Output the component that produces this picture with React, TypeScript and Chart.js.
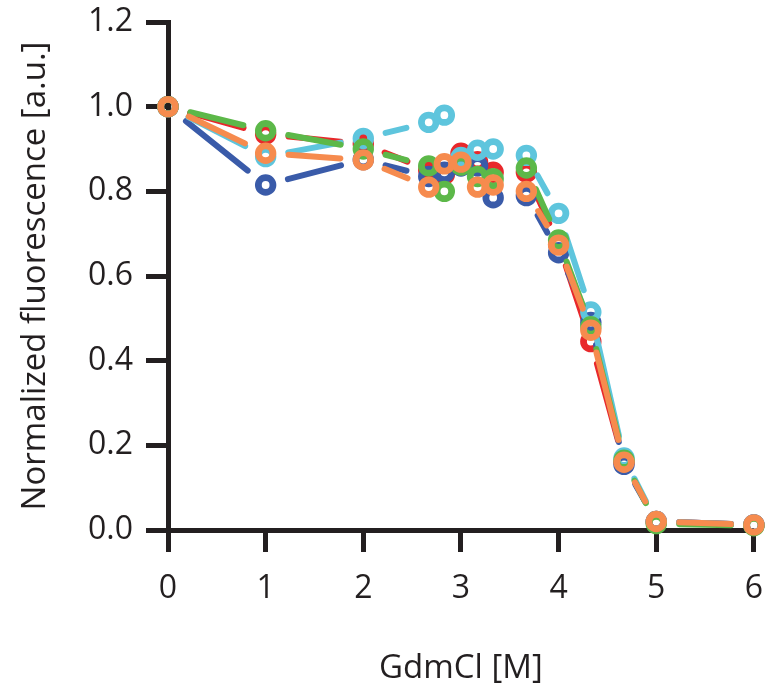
import React, { useEffect, useRef } from "react";
import { Chart, registerables } from "chart.js";

Chart.register(...registerables);

const xValues = [0, 1, 2, 2.67, 2.83, 3, 3.17, 3.33, 3.67, 4, 4.33, 4.67, 5, 6];
const seriesNames = ["Orange", "Green", "Cyan", "Blue", "Red"];
const orangeValues = [1.0, 0.89, 0.874, 0.81, 0.865, 0.869, 0.81, 0.815, 0.8, 0.673, 0.472, 0.16, 0.02, 0.012];
const greenValues = [1.0, 0.943, 0.9, 0.86, 0.8, 0.862, 0.835, 0.83, 0.855, 0.685, 0.48, 0.165, 0.015, 0.01];
const cyanValues = [1.0, 0.882, 0.925, 0.963, 0.98, 0.88, 0.897, 0.9, 0.885, 0.748, 0.515, 0.17, 0.02, 0.012];
const blueValues = [1.0, 0.815, 0.875, 0.835, 0.845, 0.86, 0.86, 0.785, 0.79, 0.655, 0.49, 0.155, 0.02, 0.012];
const redValues = [1.0, 0.935, 0.912, 0.85, 0.84, 0.89, 0.87, 0.845, 0.845, 0.675, 0.445, 0.16, 0.02, 0.012];
const xTickValues = [0, 1, 2, 3, 4, 5, 6];
const yTickValues = [0, 0.2, 0.4, 0.6, 0.8, 1.0, 1.2];

const colors = ["#f68b4e", "#5cb849", "#5ec5dd", "#3a5ba9", "#e8282b"];
const allValues = [orangeValues, greenValues, cyanValues, blueValues, redValues];

const INK = "#231f20";
const TICK_FONT = { family: "'Open Sans', 'Noto Sans', sans-serif", size: 32 };
const TITLE_FONT = { family: "'Open Sans', 'Noto Sans', sans-serif", size: 33 };
const GAP = 23;

function segLen(ctx: any) {
  const dx = ctx.p1.x - ctx.p0.x;
  const dy = ctx.p1.y - ctx.p0.y;
  return Math.sqrt(dx * dx + dy * dy);
}
function segmentDash(ctx: any) {
  const d = segLen(ctx) - 2 * GAP;
  if (d <= 0.5) return [1, 100000];
  return [d, 2 * GAP + 100000];
}
function segmentOffset(_ctx: any) {
  return -GAP;
}
function segmentColor(ctx: any, base: string) {
  return segLen(ctx) - 2 * GAP <= 0.5 ? "rgba(0,0,0,0)" : base;
}

export default function App() {
  const ref = useRef<HTMLCanvasElement | null>(null);
  useEffect(() => {
    if (!ref.current) return;
    const datasets = allValues.map((vals, i) => ({
      label: seriesNames[i],
      data: vals.map((v, j) => ({ x: xValues[j], y: v })),
      borderColor: colors[i],
      backgroundColor: "rgba(0,0,0,0)",
      borderWidth: 6,
      borderCapStyle: "round" as const,
      pointRadius: 7.3,
      pointBorderWidth: 6.8,
      pointBorderColor: colors[i],
      pointBackgroundColor: "rgba(0,0,0,0)",
      clip: false as any,
      segment: {
        borderDash: segmentDash,
        borderDashOffset: segmentOffset,
        borderColor: (c: any) => segmentColor(c, colors[i]),
      },
    }));
    const chart = new Chart(ref.current, {
      type: "line",
      data: { datasets },
      options: {
        animation: false,
        responsive: false,
        layout: { padding: { left: 0, right: 11, top: 22, bottom: 0 } },
        plugins: { legend: { display: false }, tooltip: { enabled: false } },
        scales: {
          x: {
            type: "linear",
            min: 0,
            max: 6,
            afterBuildTicks: (s: any) => {
              s.ticks = xTickValues.map((v) => ({ value: v }));
            },
            afterFit: (s: any) => {
              s.height = 160;
              s.paddingLeft = 0;
              s.paddingRight = 0;
            },
            ticks: {
              color: INK,
              font: TICK_FONT,
              padding: 18,
              callback: (v: any) => String(v),
            },
            grid: {
              drawOnChartArea: false,
              drawTicks: true,
              tickLength: 22,
              tickWidth: 5,
              tickColor: INK,
            },
            border: { display: true, width: 5, color: INK },
            title: {
              display: true,
              text: "GdmCl [M]",
              color: INK,
              font: TITLE_FONT,
              padding: { top: 0, bottom: 2 },
            },
          },
          y: {
            type: "linear",
            min: 0,
            max: 1.2,
            afterBuildTicks: (s: any) => {
              s.ticks = yTickValues.map((v) => ({ value: v }));
            },
            afterFit: (s: any) => {
              s.width = 168;
              s.paddingTop = 0;
              s.paddingBottom = 0;
            },
            ticks: {
              color: INK,
              font: TICK_FONT,
              padding: 13,
              callback: (v: any) => Number(v).toFixed(1),
            },
            grid: {
              drawOnChartArea: false,
              drawTicks: true,
              tickLength: 22,
              tickWidth: 5,
              tickColor: INK,
            },
            border: { display: true, width: 5, color: INK },
            title: {
              display: true,
              text: "Normalized fluorescence [a.u.]",
              color: INK,
              font: TITLE_FONT,
              padding: { top: 16, bottom: 0 },
            },
          },
        },
      },
    });
    return () => chart.destroy();
  }, []);
  return (
    <div style={{ position: "absolute", left: 0, top: 0, width: 768, height: 690, background: "#fff" }}>
      <canvas ref={ref} width={768} height={690} style={{ display: "block" }} />
    </div>
  );
}
